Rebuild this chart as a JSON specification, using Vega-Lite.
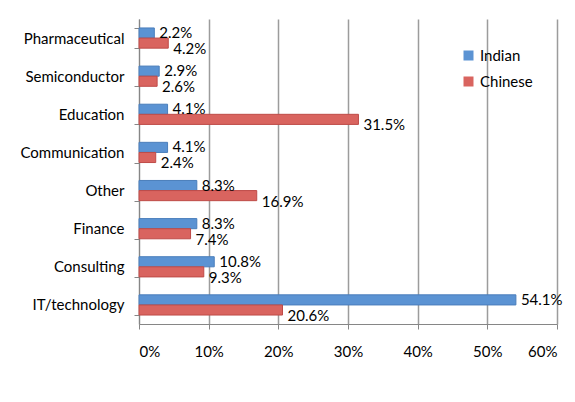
{
  "$schema": "https://vega.github.io/schema/vega-lite/v6.json",
  "width": 418,
  "height": 305,
  "autosize": {"type": "none"},
  "padding": {"left": 139, "top": 19, "right": 18, "bottom": 78},
  "background": "white",
  "config": {
    "view": {"stroke": null},
    "font": "Lato",
    "axis": {"labelFont": "Lato", "labelFontSize": 15, "labelColor": "#000000"}
  },
  "data": {
    "values": [
      {"category": "Pharmaceutical", "series": "Indian", "value": 0.022},
      {"category": "Pharmaceutical", "series": "Chinese", "value": 0.042},
      {"category": "Semiconductor", "series": "Indian", "value": 0.029},
      {"category": "Semiconductor", "series": "Chinese", "value": 0.026},
      {"category": "Education", "series": "Indian", "value": 0.041},
      {"category": "Education", "series": "Chinese", "value": 0.315},
      {"category": "Communication", "series": "Indian", "value": 0.041},
      {"category": "Communication", "series": "Chinese", "value": 0.024},
      {"category": "Other", "series": "Indian", "value": 0.083},
      {"category": "Other", "series": "Chinese", "value": 0.169},
      {"category": "Finance", "series": "Indian", "value": 0.083},
      {"category": "Finance", "series": "Chinese", "value": 0.074},
      {"category": "Consulting", "series": "Indian", "value": 0.108},
      {"category": "Consulting", "series": "Chinese", "value": 0.093},
      {"category": "IT/technology", "series": "Indian", "value": 0.541},
      {"category": "IT/technology", "series": "Chinese", "value": 0.206}
    ]
  },
  "encoding": {
    "y": {
      "field": "category",
      "type": "nominal",
      "sort": ["Pharmaceutical", "Semiconductor", "Education", "Communication", "Other", "Finance", "Consulting", "IT/technology"],
      "scale": {"paddingInner": 0.47, "paddingOuter": 0.235},
      "axis": {
        "title": null,
        "tickBand": "extent",
        "domainColor": "#868686",
        "tickColor": "#868686",
        "tickSize": 5,
        "labelPadding": 10,
        "grid": false
      }
    },
    "yOffset": {
      "field": "series",
      "type": "nominal",
      "sort": ["Indian", "Chinese"],
      "scale": {"paddingInner": 0, "paddingOuter": 0}
    },
    "x": {
      "field": "value",
      "type": "quantitative",
      "scale": {"domain": [0, 0.6], "nice": false},
      "axis": {
        "title": null,
        "format": ".0%",
        "values": [0, 0.1, 0.2, 0.3, 0.4, 0.5, 0.6],
        "grid": true,
        "gridColor": "#9C9C9C",
        "gridWidth": 1.5,
        "domainColor": "#868686",
        "tickColor": "#868686",
        "tickSize": 5,
        "labelPadding": 15
      }
    }
  },
  "layer": [
    {
      "mark": {"type": "bar", "strokeWidth": 1},
      "encoding": {
        "color": {
          "field": "series",
          "type": "nominal",
          "sort": ["Indian", "Chinese"],
          "scale": {"domain": ["Indian", "Chinese"], "range": ["#5B93D3", "#D9645F"]},
          "legend": {
            "title": null,
            "orient": "none",
            "legendX": 322,
            "legendY": 29,
            "symbolType": "square",
            "symbolSize": 100,
            "symbolStrokeWidth": 0,
            "labelFontSize": 15,
            "labelFont": "Lato",
            "rowPadding": 10,
            "labelOffset": 4
          }
        },
        "stroke": {
          "field": "series",
          "type": "nominal",
          "scale": {"domain": ["Indian", "Chinese"], "range": ["#4A7EBB", "#BE4B48"]},
          "legend": null
        }
      }
    },
    {
      "transform": [{"filter": "datum.series == 'Indian'"}],
      "mark": {"type": "text", "align": "left", "baseline": "middle", "dx": 5, "dy": 0, "fontSize": 15, "font": "Lato", "color": "#000000"},
      "encoding": {"text": {"field": "value", "type": "quantitative", "format": ".1%"}}
    },
    {
      "transform": [{"filter": "datum.series == 'Chinese'"}],
      "mark": {"type": "text", "align": "left", "baseline": "middle", "dx": 5, "dy": 6, "fontSize": 15, "font": "Lato", "color": "#000000"},
      "encoding": {"text": {"field": "value", "type": "quantitative", "format": ".1%"}}
    }
  ]
}
